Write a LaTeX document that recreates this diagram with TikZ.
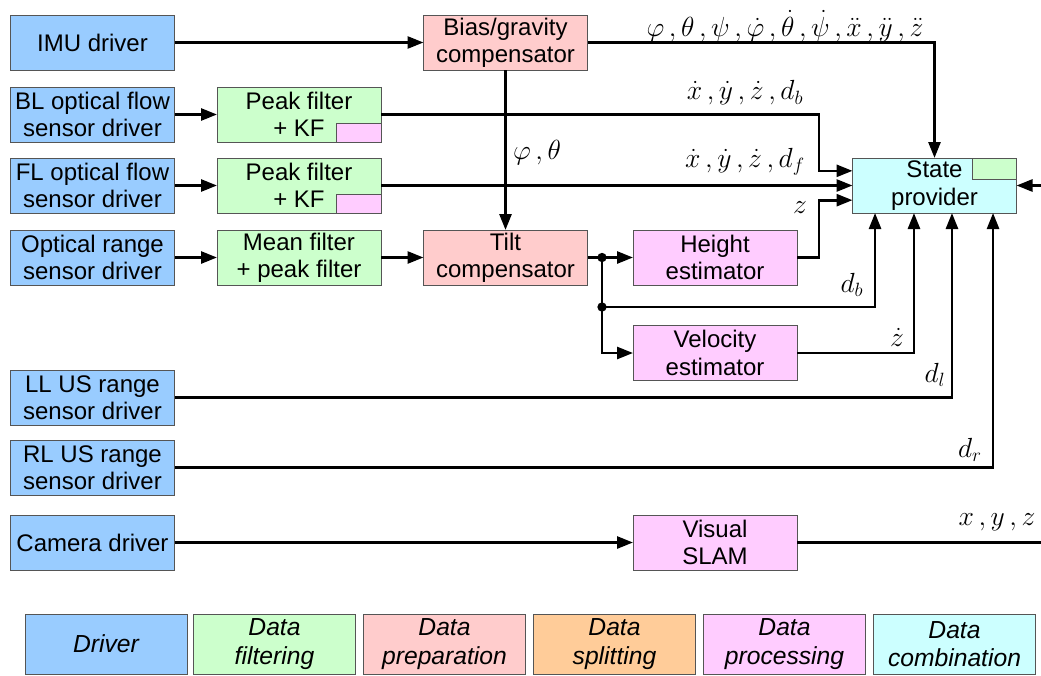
\documentclass[tikz,border=0pt]{standalone}
\usepackage{fontspec}
\setmainfont{Liberation Sans}
\usetikzlibrary{arrows.meta}
\definecolor{cdrv}{HTML}{99CCFF}
\definecolor{cfil}{HTML}{CCFFCC}
\definecolor{cpre}{HTML}{FFCCCC}
\definecolor{cspl}{HTML}{FFCC99}
\definecolor{cpro}{HTML}{FFCCFF}
\definecolor{ccom}{HTML}{CCFFFF}
\definecolor{cedge}{HTML}{555555}
\begin{document}
\begin{tikzpicture}[x=0.75pt,y=-0.75pt,
  blk/.style={draw=cedge, line width=0.7pt, inner sep=0pt, outer sep=0pt,
    minimum width=123pt, minimum height=41.25pt, align=center,
    font=\fontsize{18}{20.5}\selectfont},
  drv/.style={blk, fill=cdrv},
  fil/.style={blk, fill=cfil},
  pre/.style={blk, fill=cpre},
  pro/.style={blk, fill=cpro},
  com/.style={blk, fill=ccom},
  tag/.style={draw=cedge, line width=0.7pt},
  leg/.style={blk, minimum width=121.5pt, minimum height=45pt,
    font=\fontsize{18.5}{21.5}\selectfont\itshape},
  wire/.style={line width=2pt},
  arr/.style={wire, -{Triangle[length=12pt,width=9pt]}},
  lbl/.style={inner sep=0pt, font=\fontsize{22.5}{26}\selectfont},
  junc/.style={circle, fill=black, inner sep=0pt, minimum size=7pt}]
\useasboundingbox (0,0) rectangle (1041,675);

% drivers
\node[drv] (imu) at (92.5,42.5) {IMU driver};
\node[drv] (bl)  at (92.5,114.5) {BL optical flow\\sensor driver};
\node[drv] (fl)  at (92.5,185.5) {FL optical flow\\sensor driver};
\node[drv] (orng) at (92.5,257.5) {Optical range\\sensor driver};
\node[drv] (ll)  at (92.5,397.5) {LL US range\\sensor driver};
\node[drv] (rl)  at (92.5,467.5) {RL US range\\sensor driver};
\node[drv] (cam) at (92.5,542.5) {Camera driver};

% filters
\node[fil] (pf1) at (299,114.5) {Peak filter\\+ KF};
\node[fil] (pf2) at (299,185.5) {Peak filter\\+ KF};
\node[fil] (mf)  at (299,257.5) {Mean filter\\+ peak filter};
\fill[cpro] (336,123) rectangle (pf1.south east);
\draw[tag] (336,142) -- (336,123) -- (381,123);
\fill[cpro] (336,194) rectangle (pf2.south east);
\draw[tag] (336,213) -- (336,194) -- (381,194);

% preparation
\node[pre] (bias) at (505.5,42.5) {Bias/gravity\\compensator};
\node[pre] (tilt) at (505.5,257.5) {Tilt\\compensator};

% processing
\node[pro] (height) at (715,257.5) {Height\\estimator};
\node[pro] (vel)    at (715,353) {Velocity\\estimator};
\node[pro] (slam)   at (715,542.5) {Visual\\SLAM};

% combination
\node[com] (state) at (934.5,185.5) {State\\provider};
\fill[cfil] (972,158) rectangle (1016,179);
\draw[tag] (972,158) -- (972,179) -- (1016,179);
\draw[draw=cedge, line width=0.7pt] (state.south west) rectangle (state.north east);

% junctions and free ends
\coordinate (j1) at (602,257.5);
\coordinate (j2) at (602,307);
\coordinate (ext) at (1041,185.5);
\coordinate (out) at (1041,542.5);
\coordinate (k1) at (819,114.5);
\coordinate (k2) at (819,257.5);

% connectors
\draw[arr] (imu) -- (bias);
\draw[arr] (bias.east) -| (state.north);
\draw[arr] (bias) -- (tilt);
\draw[arr] (bl) -- (pf1);
\draw[arr] (fl) -- (pf2);
\draw[arr] (orng) -- (mf);
\draw[arr] (mf) -- (tilt);
\draw[arr] (pf1.east) -- (k1) |- ([yshift=11pt]state.west);
\draw[arr] (pf2) -- (state);
\draw[arr] (tilt) -- (height);
\draw[wire] (j1) -- (j2);
\draw[arr] (j2) -| ([xshift=-44.6pt]state.south);
\draw[arr] (j2) |- (vel.west);
\draw[arr] (height.east) -- (k2) |- ([yshift=-11pt]state.west);
\draw[arr] (vel.east) -| ([xshift=-15.4pt]state.south);
\draw[arr] (ll.east) -| ([xshift=13.1pt]state.south);
\draw[arr] (rl.east) -| ([xshift=43.9pt]state.south);
\draw[arr] (ext) -- (state.east);
\draw[arr] (cam) -- (slam);
\draw[wire] (slam.east) -- (out);
\node[junc] at (j1) {};
\node[junc] at (j2) {};

% signal labels
\node[lbl] at (785,26) {$\varphi\,,\theta\,,\psi\,,\dot\varphi\,,\dot\theta\,,\dot\psi\,,\ddot x\,,\ddot y\,,\ddot z$};
\node[lbl] at (745,93) {$\dot x\,,\dot y\,,\dot z\,,d_b$};
\node[lbl] at (745,162) {$\dot x\,,\dot y\,,\dot z\,,d_f$};
\node[lbl] at (537,153) {$\varphi\,,\theta$};
\node[lbl] at (800,208) {$z$};
\node[lbl] at (852,285) {$d_b$};
\node[lbl] at (897,337) {$\dot z$};
\node[lbl] at (935,375) {$d_l$};
\node[lbl] at (970,450) {$d_r$};
\node[lbl] at (997,522) {$x\,,y\,,z$};

% legend
\node[leg, fill=cdrv] at (106,644) {Driver};
\node[leg, fill=cfil] at (274.5,644) {Data\\filtering};
\node[leg, fill=cpre] at (444.5,644) {Data\\preparation};
\node[leg, fill=cspl] at (614.5,644) {Data\\splitting};
\node[leg, fill=cpro] at (784.5,644) {Data\\processing};
\node[leg, fill=ccom] at (954.5,644) {Data\\combination};
\end{tikzpicture}
\end{document}
